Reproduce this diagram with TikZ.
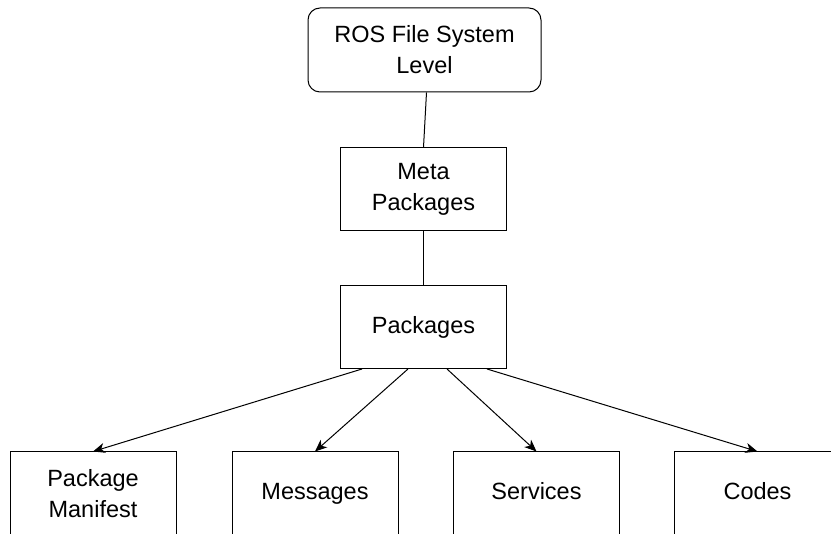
\documentclass[tikz,border=0pt]{standalone}
\usepackage{fontspec}
\setmainfont{Liberation Sans}
\usetikzlibrary{arrows.meta}
\begin{document}
\begin{tikzpicture}[x=1pt,y=-1pt,
  box/.style={draw,line width=1pt,minimum width=166pt,minimum height=83pt,align=center,inner sep=0pt,font=\fontsize{23.5}{31}\selectfont},
  one/.style={box,text height=1.2em,text depth=0pt},
  rbox/.style={box,rounded corners=12pt,minimum width=233pt,minimum height=84pt},
  conn/.style={line width=1pt},
  arr/.style={line width=1pt,-{Stealth[length=12pt,width=10pt,inset=3.5pt]}}]
\useasboundingbox (0,0) rectangle (831,534);
\clip (0,0) rectangle (831,534);
\node[rbox] (ros) at (424.5,50) {ROS File System\\Level};
\node[box] (meta) at (423.5,189.5) {Meta\\Packages};
\node[one] (pkg) at (423.5,327.5) {Packages};
\node[box] (man) at (93,493.5) {Package\\Manifest};
\node[one] (msg) at (315,493.5) {Messages};
\node[one] (srv) at (536.5,493.5) {Services};
\node[one] (cod) at (757.5,493.5) {Codes};
\draw[conn] (ros.south) ++(2,0) coordinate (r1) -- (meta.north);
\draw[conn] (meta.south) -- (pkg.north);
\coordinate (p1) at (362,369);
\coordinate (p2) at (408,369);
\coordinate (p3) at (447,369);
\coordinate (p4) at (487,369);
\draw[arr] (p1) -- (man.north);
\draw[arr] (p2) -- (msg.north);
\draw[arr] (p3) -- (srv.north);
\draw[arr] (p4) -- (cod.north);
\end{tikzpicture}
\end{document}
